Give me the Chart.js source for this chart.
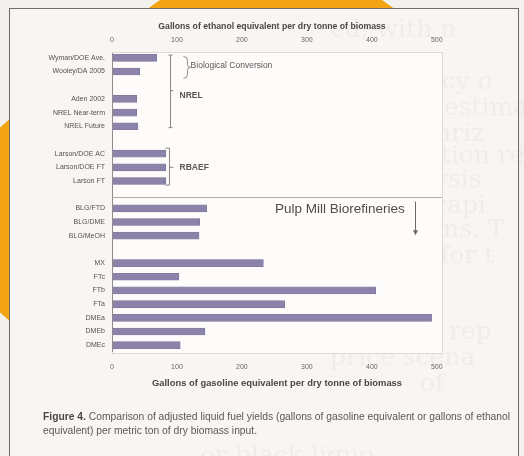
<!DOCTYPE html>
<html>
<head>
<meta charset="utf-8">
<script src="https://cdn.jsdelivr.net/npm/chart.js@4"></script>
<style>
html, body { margin: 0; padding: 0; width: 524px; height: 456px; overflow: hidden; background: #f3f1ee; font-family: "Liberation Sans", Arial, sans-serif; }
#wrap { position: absolute; left: 0; top: 0; width: 524px; height: 456px; overflow: hidden; filter: blur(0.45px); }
.blob { position: absolute; border-radius: 50%; background: #f3a412; }
#card { position: absolute; left: 9px; top: 8px; width: 508px; height: 470px; background: #f8f6f2; border: 1px solid #6f6b67; }
.ghost { position: absolute; font-family: "DejaVu Serif", serif; font-size: 25px; color: rgba(110, 100, 95, 0.055); white-space: nowrap; }
#cap { position: absolute; left: 43px; top: 410px; font-size: 10.3px; line-height: 14px; color: #5b5855; white-space: nowrap; }
#cap b { color: #4a4745; }
canvas { position: absolute; left: 0; top: 0; }
</style>
</head>
<body>
<div id="wrap">
  <div class="blob" style="left:68px;top:-33px;width:406px;height:406px"></div>
  <div class="blob" style="left:-39px;top:91px;width:258px;height:258px"></div>
  <div id="card"></div>
  <div class="ghost" style="left:330px;top:14px">ed, with n</div>
  <div class="ghost" style="left:420px;top:44px">y</div>
  <div class="ghost" style="left:300px;top:66px">The accuracy o</div>
  <div class="ghost" style="left:330px;top:92px">capacity estimat</div>
  <div class="ghost" style="left:360px;top:118px">summariz</div>
  <div class="ghost" style="left:330px;top:140px">the equation rep</div>
  <div class="ghost" style="left:380px;top:164px">analysis</div>
  <div class="ghost" style="left:400px;top:190px">to capi</div>
  <div class="ghost" style="left:420px;top:214px">ions. T</div>
  <div class="ghost" style="left:440px;top:240px">for t</div>
  <div class="ghost" style="left:400px;top:316px">the rep</div>
  <div class="ghost" style="left:330px;top:342px">price scena</div>
  <div class="ghost" style="left:420px;top:368px">of</div>
  <div class="ghost" style="left:200px;top:440px">or black liquo</div>
  <canvas id="myChart" width="524" height="456"></canvas>
  <div id="cap"><b>Figure 4.</b> Comparison of adjusted liquid fuel yields (gallons of gasoline equivalent or gallons of ethanol<br>equivalent) per metric ton of dry biomass input.</div>
</div>

<script>
// rows top to bottom, '' = empty spacer row
var labels = ['Wyman/DOE Ave.', 'Wooley/DA 2005', '',
    'Aden 2002', 'NREL Near-term', 'NREL Future', '',
    'Larson/DOE AC', 'Larson/DOE FT', 'Larson FT', '',
    'BLG/FTD', 'BLG/DME', 'BLG/MeOH', '',
    'MX', 'FTc', 'FTb', 'FTa', 'DMEa', 'DMEb', 'DMEc'];
var yields = [69, 43, null,
    38, 38, 40, null,
    83, 83, 83, null,
    146, 135, 134, null,
    233, 103, 406, 266, 492, 143, 105];
var tickValues = [0, 100, 200, 300, 400, 500];
var topTitle = 'Gallons of ethanol equivalent per dry tonne of biomass';
var bottomTitle = 'Gallons of gasoline equivalent per dry tonne of biomass';

var annot = {
    id: 'annot',
    beforeDraw: function (chart) {
        var c = chart.ctx, a = chart.chartArea;
        c.save();
        c.fillStyle = '#fdfcfb';
        c.fillRect(a.left, a.top + 1, a.right - a.left, a.bottom - a.top);
        c.strokeStyle = '#dedad6';
        c.lineWidth = 1;
        c.strokeRect(a.left + 0.5, a.top + 1.5, a.right - a.left, a.bottom - a.top);
        c.restore();
    },
    afterDraw: function (chart) {
        var c = chart.ctx, a = chart.chartArea;
        var X = function (v) { return chart.scales.x.getPixelForValue(v); };
        var Y = function (i) { return chart.scales.y.getPixelForValue(i); };
        c.save();
        c.strokeStyle = '#8f8b88';
        c.lineWidth = 1;
        // left axis line
        c.beginPath(); c.moveTo(a.left + 0.5, a.top + 2); c.lineTo(a.left + 0.5, a.bottom); c.stroke();
        // separator
        c.strokeStyle = '#b3aeaa';
        c.beginPath(); c.moveTo(a.left, Math.round(Y(10.2)) + 0.5); c.lineTo(a.right, Math.round(Y(10.2)) + 0.5); c.stroke();

        c.strokeStyle = '#8a8683';
        // NREL line
        var nx = Math.round(X(89)) + 0.5;
        c.beginPath();
        c.moveTo(nx, Y(-0.2)); c.lineTo(nx, Y(5.1));
        c.moveTo(nx - 2, Y(-0.2)); c.lineTo(nx + 2, Y(-0.2));
        c.moveTo(nx, Y(2.4)); c.lineTo(nx + 3, Y(2.4));
        c.moveTo(nx - 2, Y(5.1)); c.lineTo(nx + 2, Y(5.1));
        c.stroke();
        // brace for biological conversion
        var bx = X(110), y0 = Y(-0.1), y1 = Y(1.5), ym = (y0 + y1) / 2;
        c.beginPath();
        c.moveTo(bx, y0);
        c.quadraticCurveTo(bx + 4, y0, bx + 4, y0 + 4);
        c.lineTo(bx + 4, ym - 3);
        c.quadraticCurveTo(bx + 4, ym, bx + 7, ym);
        c.quadraticCurveTo(bx + 4, ym, bx + 4, ym + 3);
        c.lineTo(bx + 4, y1 - 4);
        c.quadraticCurveTo(bx + 4, y1, bx, y1);
        c.stroke();
        // RBAEF bracket
        var rx = Math.round(X(85)) + 0.5, r0 = Y(6.6), r1 = Y(9.3), rm = Y(8);
        c.beginPath();
        c.moveTo(rx - 2, r0); c.lineTo(rx + 2, r0); c.lineTo(rx + 2, r1); c.lineTo(rx - 2, r1);
        c.moveTo(rx + 2, rm); c.lineTo(rx + 6, rm);
        c.stroke();
        // pulp mill arrow
        var px = Math.round(X(466)) + 0.5, p0 = Y(10.5), p1 = Y(12.9);
        c.strokeStyle = '#6b6866';
        c.beginPath(); c.moveTo(px, p0); c.lineTo(px, p1); c.stroke();
        c.fillStyle = '#6b6866';
        c.beginPath(); c.moveTo(px - 2.5, p1 - 4); c.lineTo(px + 2.5, p1 - 4); c.lineTo(px, p1 + 1); c.closePath(); c.fill();

        // texts
        c.fillStyle = '#5a5755';
        c.textBaseline = 'middle';
        c.textAlign = 'left';
        c.font = '8.5px "Liberation Sans", Arial, sans-serif';
        c.fillText('Biological Conversion', X(121), Y(0.6));
        c.font = 'bold 8.5px "Liberation Sans", Arial, sans-serif';
        c.fillText('NREL', X(104), Y(2.8));
        c.fillText('RBAEF', X(104), Y(8));
        c.font = '13.5px "Liberation Sans", Arial, sans-serif';
        c.fillStyle = '#4f4c4a';
        c.fillText('Pulp Mill Biorefineries', X(251), Y(11.1));
        // axis titles
        c.textAlign = 'center';
        c.fillStyle = '#4a4745';
        c.font = 'bold 8.7px "Liberation Sans", Arial, sans-serif';
        c.fillText(topTitle, 272, 27);
        c.font = 'bold 9.4px "Liberation Sans", Arial, sans-serif';
        c.fillText(bottomTitle, 277, 383);
        c.restore();
    }
};

var ctx = document.getElementById('myChart');
var tickFilter = function (scale) {
    scale.ticks = tickValues.map(function (v) { return { value: v }; });
};
var myChart = new Chart(ctx, {
    type: 'bar',
    data: {
        labels: labels,
        datasets: [{
            label: '',
            data: yields,
            backgroundColor: '#8c83ab',
            borderColor: '#7d7499',
            borderWidth: 0.6,
            barThickness: 7,
            xAxisID: 'x'
        }]
    },
    options: {
        responsive: false,
        animation: false,
        indexAxis: 'y',
        layout: { padding: { top: 37, bottom: 84, left: 0, right: 82 } },
        plugins: {
            legend: { display: false },
            tooltip: { enabled: false }
        },
        scales: {
            x: {
                position: 'bottom',
                min: 0, max: 508,
                grid: { display: false, drawTicks: false },
                border: { display: false },
                afterBuildTicks: tickFilter,
                ticks: { padding: 11, color: '#6a6764', font: { size: 7 } },
                afterFit: function (s) { s.height = 20; }
            },
            x2: {
                axis: 'x',
                position: 'top',
                min: 0, max: 508,
                grid: { display: false, drawTicks: false },
                border: { display: false },
                afterBuildTicks: tickFilter,
                ticks: { padding: 7, color: '#6a6764', font: { size: 7 } },
                afterFit: function (s) { s.height = 14; }
            },
            y: {
                grid: { display: false, drawTicks: false },
                border: { display: false },
                ticks: { autoSkip: false, padding: 7, color: '#55524f', font: { size: 7 } },
                afterFit: function (s) { s.width = 112; }
            }
        }
    },
    plugins: [annot]
});
</script>
</body>
</html>
